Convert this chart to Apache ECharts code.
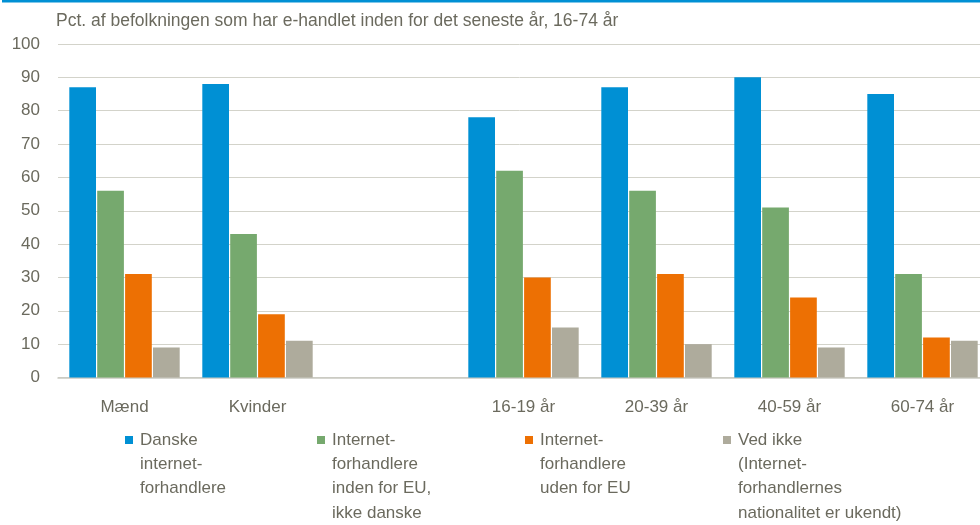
<!DOCTYPE html>
<html><head><meta charset="utf-8">
<script src="https://cdn.jsdelivr.net/npm/echarts@6/dist/echarts.min.js"></script>
<style>html,body{margin:0;padding:0;background:#fff}#c{width:980px;height:525px}</style>
</head><body><div id="c"></div>
<script>
const categories = ['Mænd', 'Kvinder', '', '16-19 år', '20-39 år', '40-59 år', '60-74 år'];
const seriesNames = [
  'Danske\ninternet-\nforhandlere',
  'Internet-\nforhandlere\ninden for EU,\nikke danske',
  'Internet-\nforhandlere\nuden for EU',
  'Ved ikke\n(Internet-\nforhandlernes\nnationalitet er ukendt)'
];
const danske = [87, 88, null, 78, 87, 90, 85];
const indenEU = [56, 43, null, 62, 56, 51, 31];
const udenEU = [31, 19, null, 30, 31, 24, 12];
const vedIkke = [9, 11, null, 15, 10, 9, 11];
const yTicks = [0, 10, 20, 30, 40, 50, 60, 70, 80, 90, 100];
const title = 'Pct. af befolkningen som har e-handlet inden for det seneste år, 16-74 år';

const colors = ['#0090d4', '#76a96e', '#ed7003', '#aeab9c'];
const textColor = '#6b6a5e';
const font = 'Liberation Sans';
const values = [danske, indenEU, udenEU, vedIkke];
const legendLeft = [125, 317, 525, 723];
const lh = 24.4;

const chart = echarts.init(document.getElementById('c'));
const legends = seriesNames.map((n, i) => {
  const lines = n.split('\n').length;
  const total = 2 * lines - 1;
  return {
    data: [n], left: legendLeft[i], top: 440 - total * lh / 2, padding: 0,
    icon: 'rect', itemWidth: 8, itemHeight: 8, orient: 'vertical',
    selectedMode: false,
    formatter: (name) => '\n'.repeat(lines - 1) + name,
    textStyle: { color: textColor, fontFamily: font, fontSize: 17, lineHeight: lh, padding: [0, 0, 0, 2] }
  };
});
chart.setOption({
  animation: false,
  color: colors,
  textStyle: { fontFamily: font },
  title: { text: title, left: 56, top: 12, padding: 0,
    textStyle: { color: textColor, fontFamily: font, fontSize: 17.5, fontWeight: 'normal' } },
  graphic: [{ type: 'rect', left: 2, top: 0, shape: { width: 978, height: 2.5 }, style: { fill: '#0090d4' } }],
  legend: legends,
  grid: { left: 58, width: 931, top: 44, height: 333.5, containLabel: false, outerBoundsMode: 'none' },
  xAxis: {
    type: 'category', data: categories,
    axisLine: { lineStyle: { color: '#c9c9c1', width: 1.5 } },
    axisTick: { show: false },
    axisLabel: { color: textColor, fontFamily: font, fontSize: 17, margin: 21, interval: 0 }
  },
  yAxis: {
    type: 'value', min: 0, max: 100, interval: 10,
    axisLine: { show: false }, axisTick: { show: false },
    splitLine: { lineStyle: { color: '#d3d3ca', width: 1 } },
    axisLabel: { color: textColor, fontFamily: font, fontSize: 17, margin: 18,
      formatter: (v) => yTicks.includes(v) ? String(v) : '' }
  },
  series: values.map((d, i) => ({
    type: 'bar', name: seriesNames[i], data: d,
    barCategoryGap: '17%', barGap: '4.5%',
    itemStyle: { color: colors[i] }
  }))
});
</script></body></html>
